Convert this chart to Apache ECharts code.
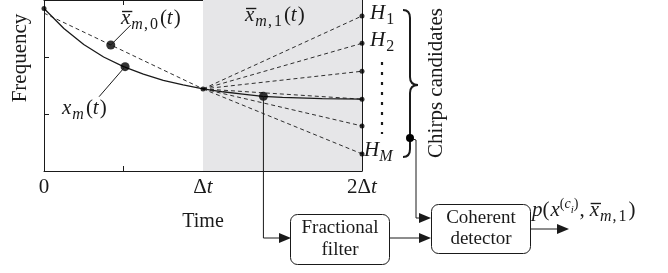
<!DOCTYPE html>
<html>
<head>
<meta charset="utf-8">
<script src="https://cdn.jsdelivr.net/npm/echarts@6/dist/echarts.min.js"></script>
<style>
html,body{margin:0;padding:0;background:#fff}
#main{width:668px;height:273px}
</style>
</head>
<body>
<div id="main"></div>
<script>
// time axis labels (every 0.5 step)
var timeTicks = ['0', '', '{u|Δ}{i|t}', '', '{u|2Δ}{i|t}'];
// true chirp x_m(t), first and second interval
var trueChirp = [[0,2.85],[0.125,2.50],[0.25,2.22],[0.375,2.00],[0.5,1.83],[0.625,1.70],[0.75,1.59],[0.875,1.51],[1,1.44]];
var trueChirpNext = [[1,1.44],[1.125,1.39],[1.25,1.35],[1.375,1.31],[1.5,1.29],[1.75,1.27],[2,1.26]];
// linear estimate on first interval
var estChirp0 = [[0,2.77],[1,1.44]];
// chirp candidates H1..HM at 2Δt
var fanStart = [1, 1.44];
var candidateEnds = [2.72, 2.24, 1.75, 1.26, 0.79, 0.30];
// marked points
var bigDots = [[0.42,2.21],[0.51,1.83],[1.38,1.31]];
var smallDots = [[0,2.85],[1,1.44]];

var ink = '#1a1a1a';
var serif = '"Liberation Serif", "DejaVu Serif", serif';

var chart = echarts.init(document.getElementById('main'));

var series = [];
// gray second interval
series.push({
  type: 'line', data: trueChirp, showSymbol: false, z: 3,
  lineStyle: {color: ink, width: 1.3},
  markArea: {silent: true, itemStyle: {color: '#e6e6e8'}, data: [[{xAxis: 1}, {xAxis: 2}]]}
});
series.push({type: 'line', data: trueChirpNext, showSymbol: false, z: 3, lineStyle: {color: ink, width: 1.3}});
series.push({type: 'line', data: estChirp0, showSymbol: false, z: 2, lineStyle: {color: ink, width: 0.9, type: [4, 3]}});
var fanEnds = [];
for (var i = 0; i < candidateEnds.length; i++) {
  series.push({type: 'line', data: [fanStart, [2, candidateEnds[i]]], showSymbol: false, z: 2,
    lineStyle: {color: ink, width: 0.9, type: [4, 3]}});
  fanEnds.push([2, candidateEnds[i]]);
}
series.push({type: 'scatter', data: smallDots.concat(fanEnds), symbolSize: 5, z: 5, itemStyle: {color: '#000'}});
series.push({type: 'scatter', data: bigDots, symbolSize: 9, z: 6, itemStyle: {color: '#000'}});

function axisBase(pos, labels) {
  return {
    type: 'value', position: pos, min: 0,
    axisLine: {show: true, onZero: false, lineStyle: {color: ink, width: 1}},
    axisTick: {show: true, inside: true, length: 5, lineStyle: {color: ink}},
    splitLine: {show: false},
    axisLabel: {show: labels}
  };
}
var xBottom = axisBase('bottom', true);
xBottom.max = 2; xBottom.interval = 0.5;
xBottom.axisLabel = {
  show: true, margin: 6, fontSize: 21, fontFamily: serif, color: ink,
  formatter: function (v) { return timeTicks[Math.round(v * 2)]; },
  rich: {
    u: {fontSize: 21, fontFamily: serif, color: ink},
    i: {fontSize: 21, fontFamily: serif, fontStyle: 'italic', color: ink}
  }
};
var xTop = axisBase('top', false); xTop.max = 2; xTop.interval = 0.5;
var yLeft = axisBase('left', false); yLeft.max = 3; yLeft.interval = 1;
var yRight = axisBase('right', false); yRight.max = 3; yRight.interval = 1;

chart.setOption({
  animation: false,
  backgroundColor: '#fff',
  grid: {left: 44, right: 306, top: -1, bottom: 102, containLabel: false},
  xAxis: [xBottom, xTop],
  yAxis: [yLeft, yRight],
  series: series
});

// ---- annotations ----
var ctx = document.createElement('canvas').getContext('2d');
function mathText(x, y, parts) {
  var els = [], cx = x;
  parts.forEach(function (p) {
    var size = p.fs || (p.s ? 16 : 21);
    var font = (p.it ? 'italic ' : '') + size + 'px ' + serif;
    ctx.font = font;
    var w = ctx.measureText(p.t).width;
    var by = y + (p.s === 'sub' ? 5 : p.s === 'sup' ? -8 : 0) + (p.dy || 0);
    els.push({type: 'text', x: cx, y: by - 0.3 * size, z: 20,
      style: {text: p.t, font: font, fill: ink, align: 'left', verticalAlign: 'middle'}});
    if (p.bar) {
      els.push({type: 'line', z: 20, shape: {x1: cx + 1, y1: by - 13.5, x2: cx + w + 2, y2: by - 13.5},
        style: {stroke: ink, lineWidth: 1.4}});
    }
    cx += w + (p.gap || 0);
  });
  return els;
}
function txt(x, y, s, size, rot) {
  return {type: 'text', x: x, y: y, rotation: rot || 0, z: 20,
    style: {text: s, font: size + 'px ' + serif, fill: ink, align: 'center', verticalAlign: 'middle'}};
}
function seg(x1, y1, x2, y2, w) {
  return {type: 'line', z: 15, shape: {x1: x1, y1: y1, x2: x2, y2: y2}, style: {stroke: ink, lineWidth: w || 1}};
}
function curve(x1, y1, cx, cy, x2, y2) {
  return {type: 'bezierCurve', z: 15, shape: {x1: x1, y1: y1, cpx1: cx, cpy1: cy, x2: x2, y2: y2},
    style: {stroke: ink, lineWidth: 2, fill: null}};
}
function head(x, y) {
  return {type: 'polygon', z: 16, shape: {points: [[x, y], [x - 12, y - 5], [x - 12, y + 5]]}, style: {fill: ink}};
}
function box(x, y, w, h) {
  return {type: 'rect', z: 15, shape: {x: x, y: y, width: w, height: h, r: 7},
    style: {fill: '#fff', stroke: ink, lineWidth: 1}};
}

var g = [];
var p0 = chart.convertToPixel({gridIndex: 0}, bigDots[0]);
var p1 = chart.convertToPixel({gridIndex: 0}, bigDots[1]);
var p2 = chart.convertToPixel({gridIndex: 0}, bigDots[2]);
g.push(seg(p0[0], p0[1], p0[0] + 20, p0[1] - 20));
g.push(seg(p1[0], p1[1], p1[0] - 26, p1[1] + 30));
// from x_m marker down to fractional filter
g.push({type: 'polyline', z: 15, shape: {points: [[p2[0], p2[1]], [p2[0], 238], [279, 238]]},
  style: {stroke: ink, lineWidth: 1, fill: null}});
g.push(head(291, 238));
// brace
g.push(curve(403, 10, 410, 10, 410, 18));
g.push(seg(410, 18, 410, 77, 2));
g.push(curve(410, 77, 410, 85, 418, 85));
g.push(curve(418, 85, 410, 85, 410, 93));
g.push(seg(410, 93, 410, 149, 2));
g.push(curve(410, 149, 410, 157, 403, 157));
g.push({type: 'circle', z: 16, shape: {cx: 410, cy: 138, r: 4}, style: {fill: '#000'}});
g.push({type: 'polyline', z: 15, shape: {points: [[410, 138], [416, 140], [416, 218], [419, 218]]},
  style: {stroke: ink, lineWidth: 1, fill: null}});
g.push(head(431, 218));
// vertical dots between H2 and HM
g.push({type: 'line', z: 15, shape: {x1: 382, y1: 62, x2: 382, y2: 134},
  style: {stroke: ink, lineWidth: 2.2, lineDash: [3, 7]}});
// boxes
g.push(box(290.5, 214.5, 99, 50));
g.push(box(431.5, 204.5, 99, 49));
g.push(seg(390, 238, 420, 238));
g.push(head(431, 238));
g.push(seg(531, 229, 557, 229));
g.push(head(569, 229));
// plain texts
g.push(txt(20, 58, 'Frequency', 21, Math.PI / 2));
g.push(txt(436, 83, 'Chirps candidates', 21, Math.PI / 2));
g.push(txt(203, 222, 'Time', 20));
g.push(txt(340, 228, 'Fractional', 19));
g.push(txt(340, 250, 'filter', 19));
g.push(txt(481, 218, 'Coherent', 19));
g.push(txt(481, 239, 'detector', 19));
// math labels
g = g.concat(mathText(121, 25, [{t: 'x', it: 1, bar: 1, gap: 1}, {t: 'm', it: 1, s: 'sub', gap: 1}, {t: ',', s: 'sub', gap: 2}, {t: '0', s: 'sub', gap: 2}, {t: '('}, {t: 't', it: 1, gap: 1}, {t: ')'}]));
g = g.concat(mathText(245, 22, [{t: 'x', it: 1, bar: 1, gap: 1}, {t: 'm', it: 1, s: 'sub', gap: 1}, {t: ',', s: 'sub', gap: 2}, {t: '1', s: 'sub', gap: 2}, {t: '('}, {t: 't', it: 1, gap: 1}, {t: ')'}]));
g = g.concat(mathText(62, 115, [{t: 'x', it: 1, gap: 1}, {t: 'm', it: 1, s: 'sub', gap: 2}, {t: '('}, {t: 't', it: 1, gap: 1}, {t: ')'}]));
g = g.concat(mathText(370, 20, [{t: 'H', it: 1, gap: 1}, {t: '1', s: 'sub'}]));
g = g.concat(mathText(370, 47, [{t: 'H', it: 1, gap: 1}, {t: '2', s: 'sub'}]));
g = g.concat(mathText(364, 157, [{t: 'H', it: 1}, {t: 'M', it: 1, s: 'sub'}]));
g = g.concat(mathText(532, 217, [{t: 'p', it: 1}, {t: '(', gap: 1}, {t: 'x', it: 1}, {t: '(', s: 'sup', fs: 14}, {t: 'c', it: 1, s: 'sup', fs: 14},
  {t: 'i', it: 1, s: 'sup', fs: 11, dy: 4}, {t: ')', s: 'sup', fs: 14, gap: 1}, {t: ',', gap: 5}, {t: 'x', it: 1, bar: 1, gap: 1},
  {t: 'm', it: 1, s: 'sub', gap: 1}, {t: ',', s: 'sub', gap: 2}, {t: '1', s: 'sub', gap: 2}, {t: ')'}]));

chart.setOption({graphic: g});
</script>
</body>
</html>
